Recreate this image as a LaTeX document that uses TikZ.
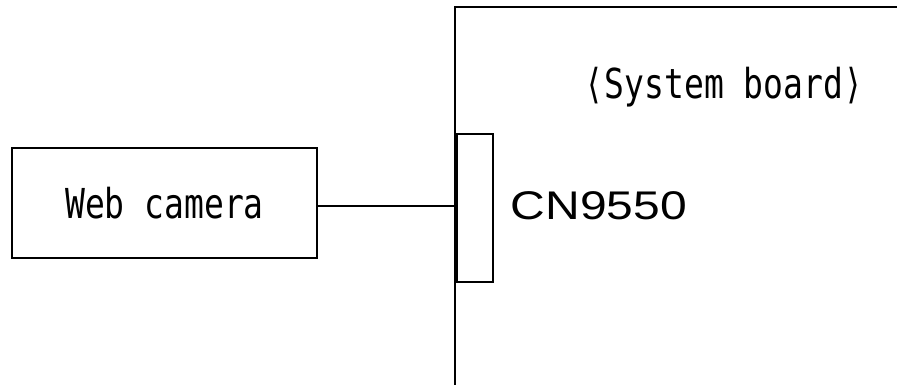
\documentclass[tikz,border=0pt]{standalone}
\usepackage{fontspec}
\setmainfont{Liberation Sans}
\newfontfamily\gothic{DejaVu Sans Mono}
\usetikzlibrary{positioning}

\newcommand{\tallgothic}[1]{\scalebox{1}[1.25]{#1}}

\begin{document}
\begin{tikzpicture}[x=1pt,y=1pt]
\tikzstyle{every path}=[line width=1.6pt]
\tikzstyle{unitbox}=[draw,inner sep=0pt,minimum width=305pt,minimum height=110pt,
  font=\gothic\fontsize{33}{33}\selectfont]
\tikzstyle{connbox}=[draw,inner sep=0pt,minimum width=36pt,minimum height=148pt]
\tikzstyle{wire}=[line width=1.2pt]

\useasboundingbox (0,0) rectangle (897,385);

%% Web camera unit
\node [unitbox] (cam) at (164.5,182) {\tallgothic{Web camera}};

%% System board outline
\coordinate (boardbot) at (455,0);
\coordinate (boardtop) at (455,378);
\coordinate (boardend) at (897,378);
\draw (boardbot) -- (boardtop) -- (boardend);
\node [font=\gothic\fontsize{33}{33}\selectfont] (board) at (724,298)
  {\tallgothic{⟨System board⟩}};

%% Connector on the board
\node [connbox] (conn) at (475,177) {};
\node [right=16pt of conn,inner sep=0pt,yshift=2pt,xscale=1.2,
  font=\fontsize{40}{40}\selectfont] (cnlabel) {CN9550};

%% Cable
\draw[wire] ([yshift=-3pt]cam.east) -- ([yshift=-3pt]cam.east -| conn.west);

\end{tikzpicture}
\end{document}
